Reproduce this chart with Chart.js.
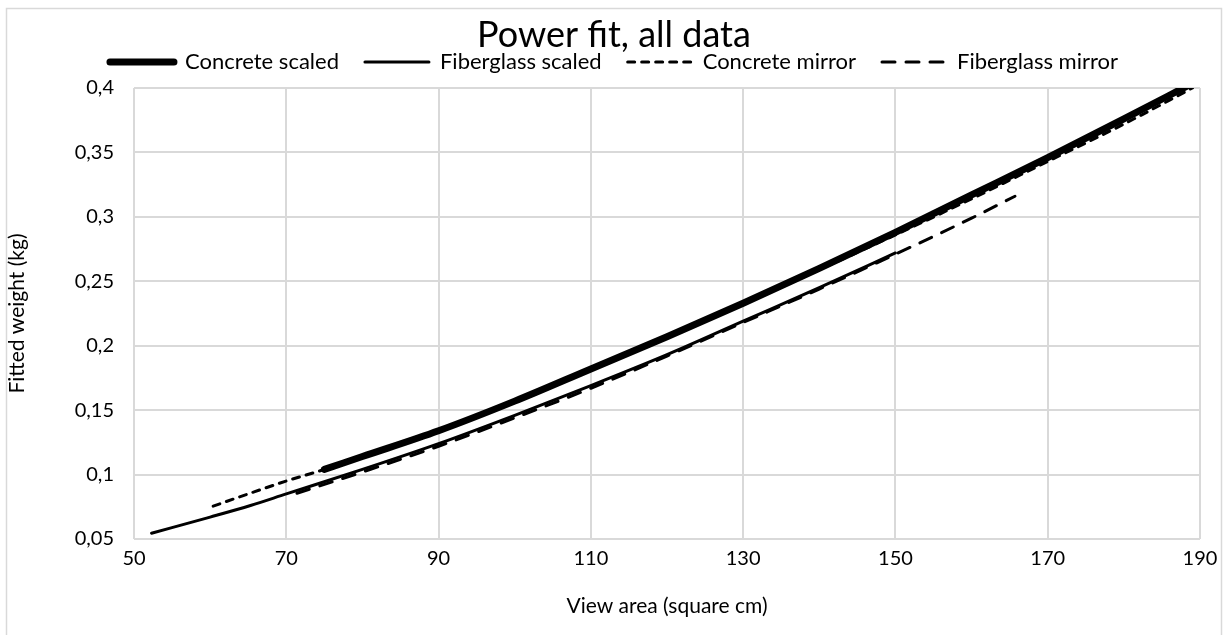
<!DOCTYPE html>
<html>
<head>
<meta charset="utf-8">
<script src="https://cdn.jsdelivr.net/npm/chart.js@4.4.1/dist/chart.umd.min.js"></script>
<style>
html, body { margin: 0; padding: 0; background: #fff; }
</style>
</head>
<body>
<canvas id="chart" width="1228" height="635"></canvas>
<script>
// values
var seriesNames = ['Concrete scaled', 'Fiberglass scaled', 'Concrete mirror', 'Fiberglass mirror'];

var concreteScaledX = [75, 80, 90, 100, 110, 120, 130, 140, 150, 160, 170, 180, 188.8];
var concreteScaledY = [0.104, 0.114, 0.134, 0.157, 0.182, 0.207, 0.233, 0.260, 0.288, 0.317, 0.346, 0.376, 0.403];

var fiberScaledX = [52.3, 60, 65.3, 70, 80, 90, 100, 110, 120, 130, 140, 150];
var fiberScaledY = [0.0545, 0.067, 0.076, 0.085, 0.104, 0.124, 0.146, 0.169, 0.193, 0.219, 0.245, 0.272];

var concreteMirrorX = [60.4, 65, 70, 75, 80, 90, 100, 110, 120, 130, 140, 150, 160, 170, 180, 189];
var concreteMirrorY = [0.0755, 0.085, 0.095, 0.104, 0.114, 0.134, 0.156, 0.181, 0.206, 0.232, 0.259, 0.286, 0.314, 0.343, 0.372, 0.400];

var fiberMirrorX = [71.4, 80, 90, 100, 110, 120, 130, 140, 150, 160, 165.7];
var fiberMirrorY = [0.0855, 0.102, 0.122, 0.144, 0.167, 0.192, 0.218, 0.244, 0.271, 0.299, 0.316];

var xTickLabels = ['50', '70', '90', '110', '130', '150', '170', '190'];
var yTickLabels = ['0,05', '0,1', '0,15', '0,2', '0,25', '0,3', '0,35', '0,4'];

function toPoints(xs, ys) {
    var pts = [];
    for (var i = 0; i < xs.length; i++) {
        pts.push({ x: xs[i], y: ys[i] });
    }
    return pts;
}

var FONT = 'Lato, "Open Sans", sans-serif';
var gridColor = '#d9d9d9';

var bgPlugin = {
    id: 'bgAndBorder',
    beforeDraw: function(chart) {
        var ctx = chart.ctx;
        ctx.save();
        ctx.fillStyle = '#fff';
        ctx.fillRect(0, 0, chart.width, chart.height);
        ctx.strokeStyle = gridColor;
        ctx.lineWidth = 1.5;
        ctx.strokeRect(6.5, 8.5, 1215, 640);
        ctx.restore();
    }
};

function lineSet(i, xs, ys, width, dash) {
    return {
        label: seriesNames[i],
        data: toPoints(xs, ys),
        showLine: true,
        borderColor: '#000',
        backgroundColor: '#000',
        borderWidth: width,
        borderDash: dash,
        borderCapStyle: 'round',
        pointRadius: 0,
        pointHoverRadius: 0,
        cubicInterpolationMode: 'monotone',
        fill: false
    };
}

new Chart(document.getElementById('chart'), {
    type: 'scatter',
    data: {
        datasets: [
            lineSet(0, concreteScaledX, concreteScaledY, 7, []),
            lineSet(1, fiberScaledX, fiberScaledY, 3, []),
            lineSet(2, concreteMirrorX, concreteMirrorY, 3, [7, 7]),
            lineSet(3, fiberMirrorX, fiberMirrorY, 3, [13, 11])
        ]
    },
    options: {
        responsive: false,
        animation: false,
        layout: { padding: { left: 28, right: 28, top: 0, bottom: 0 } },
        plugins: {
            tooltip: { enabled: false },
            title: {
                display: true,
                text: 'Power fit, all data',
                color: '#000',
                font: { family: FONT, size: 36, weight: 'normal' },
                padding: { top: 13.4, bottom: -31.6 }
            },
            // empty spacer between legend and plot
            subtitle: {
                display: true,
                text: '',
                weight: 500,
                font: { size: 1 },
                padding: { top: 3.8, bottom: 0 }
            },
            legend: {
                display: true,
                position: 'top',
                labels: {
                    color: '#000',
                    font: { family: FONT, size: 22 },
                    usePointStyle: true,
                    pointStyle: 'line',
                    pointStyleWidth: 64,
                    padding: 26,
                    generateLabels: function(chart) {
                        var items = Chart.defaults.plugins.legend.labels.generateLabels(chart);
                        items.forEach(function(item) {
                            var ds = chart.data.datasets[item.datasetIndex];
                            item.lineDash = ds.borderDash;
                            item.lineWidth = ds.borderWidth;
                            item.lineCap = ds.borderCapStyle;
                            item.pointStyle = 'line';
                        });
                        return items;
                    }
                }
            }
        },
        scales: {
            x: {
                type: 'linear',
                min: 50,
                max: 190,
                afterFit: function(scale) { scale.height = 96; },
                afterBuildTicks: function(scale) {
                    scale.ticks = xTickLabels.map(function(t) { return { value: parseFloat(t) }; });
                },
                ticks: {
                    color: '#000',
                    font: { family: FONT, size: 20 },
                    padding: 8,
                    maxRotation: 0,
                    callback: function(v, i) { return xTickLabels[i]; }
                },
                grid: { color: gridColor, lineWidth: 2, drawTicks: false },
                border: { display: false },
                title: {
                    display: true,
                    text: 'View area (square cm)',
                    color: '#000',
                    font: { family: FONT, size: 21 },
                    padding: { top: 0, bottom: 16 }
                }
            },
            y: {
                type: 'linear',
                min: 0.05,
                max: 0.4,
                afterFit: function(scale) { scale.width = 106; },
                afterBuildTicks: function(scale) {
                    scale.ticks = yTickLabels.map(function(t) { return { value: parseFloat(t.replace(',', '.')) }; });
                },
                ticks: {
                    color: '#000',
                    font: { family: FONT, size: 20 },
                    padding: 20,
                    callback: function(v, i) { return yTickLabels[i]; }
                },
                grid: { color: gridColor, lineWidth: 2, drawTicks: false },
                border: { display: false },
                title: {
                    display: true,
                    text: 'Fitted weight (kg)',
                    color: '#000',
                    font: { family: FONT, size: 21 },
                    padding: { top: -23.6, bottom: 0 }
                }
            }
        }
    },
    plugins: [bgPlugin]
});
</script>
</body>
</html>
